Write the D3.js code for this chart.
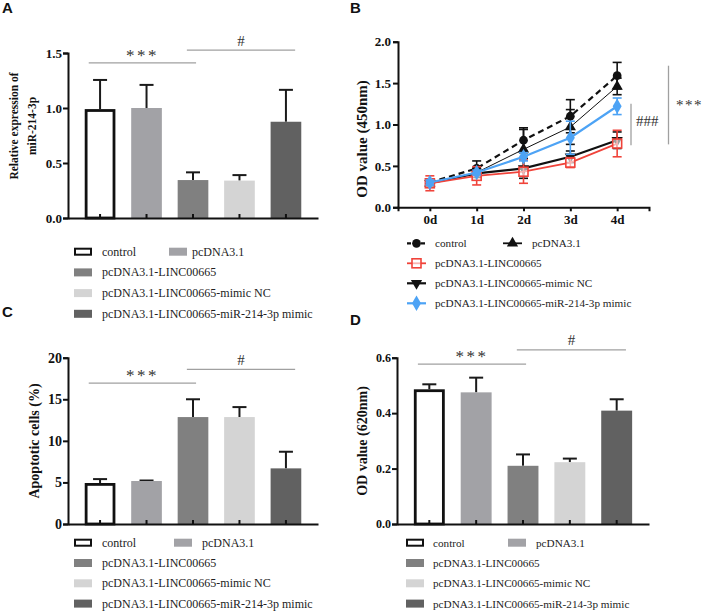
<!DOCTYPE html>
<html><head><meta charset="utf-8">
<script src="https://cdn.jsdelivr.net/npm/d3@7/dist/d3.min.js"></script>
<style>body{margin:0;background:#fff}</style>
</head><body>
<svg id="c" width="708" height="611" xmlns="http://www.w3.org/2000/svg"></svg>
<script>
// ---------- data ----------
const groups = ["control", "pcDNA3.1", "pcDNA3.1-LINC00665", "pcDNA3.1-LINC00665-mimic NC", "pcDNA3.1-LINC00665-miR-214-3p mimic"];
const groupColors = ["#ffffff", "#a2a2a6", "#808080", "#d4d4d4", "#616161"];

const exprMean = [0.99, 1.00, 0.345, 0.34, 0.875];
const exprErr  = [0.265, 0.21, 0.07, 0.05, 0.29];
const exprTicks = [0, 0.5, 1.0, 1.5];
const exprTickLabels = ["0.0", "0.5", "1.0", "1.5"];

const apopMean = [4.93, 5.17, 12.86, 12.86, 6.69];
const apopErr  = [0.47, 0.06, 2.14, 1.2, 2.0];
const apopTicks = [0, 5, 10, 15, 20];
const apopTickLabels = ["0", "5", "10", "15", "20"];

const od620Mean = [0.486, 0.475, 0.21, 0.223, 0.409];
const od620Err  = [0.018, 0.053, 0.041, 0.013, 0.041];
const od620Ticks = [0, 0.2, 0.4, 0.6];
const od620TickLabels = ["0.0", "0.2", "0.4", "0.6"];

const days = ["0d", "1d", "2d", "3d", "4d"];
const odSeriesNames = ["control", "pcDNA3.1", "pcDNA3.1-LINC00665", "pcDNA3.1-LINC00665-mimic NC", "pcDNA3.1-LINC00665-miR-214-3p mimic"];
const odControl    = [0.30, 0.47, 0.81, 1.10, 1.59];
const odControlErr = [0.03, 0.09, 0.15, 0.20, 0.16];
const odPc         = [0.29, 0.42, 0.70, 0.97, 1.46];
const odPcErr      = [0.03, 0.05, 0.24, 0.21, 0.10];
const odLinc       = [0.29, 0.38, 0.43, 0.54, 0.77];
const odLincErr    = [0.09, 0.11, 0.14, 0.06, 0.16];
const odNC         = [0.29, 0.41, 0.47, 0.61, 0.81];
const odNCErr      = [0.03, 0.05, 0.12, 0.07, 0.10];
const odMimic      = [0.30, 0.42, 0.61, 0.84, 1.22];
const odMimicErr   = [0.03, 0.03, 0.05, 0.20, 0.10];
const od450Ticks = [0, 0.5, 1.0, 1.5, 2.0];
const od450TickLabels = ["0.0", "0.5", "1.0", "1.5", "2.0"];

// ---------- drawing ----------
const svg = d3.select("#c");
const SERIF = "'Liberation Serif','Times New Roman',serif";
const SANS = "'Liberation Sans',Arial,sans-serif";

function panelLabel(t, x, y) {
  svg.append("text").attr("x", x).attr("y", y).text(t)
    .attr("font-family", SANS).attr("font-weight", "bold").attr("font-size", 15).attr("fill", "#111");
}

function yLabel(lines, x0, dx, yc, size) {
  lines.forEach((t, i) => {
    svg.append("text").attr("transform", `translate(${x0 + i * dx},${yc}) rotate(-90)`)
      .attr("text-anchor", "middle").attr("font-family", SERIF).attr("font-weight", "bold")
      .attr("font-size", size).attr("fill", "#111").text(t);
  });
}

function styleAxis(g, fs) {
  g.select(".domain").attr("stroke", "#111").attr("stroke-width", 2);
  g.selectAll(".tick line").attr("stroke", "#111").attr("stroke-width", 2);
  g.selectAll(".tick text").attr("font-family", SERIF).attr("font-weight", "bold")
    .attr("font-size", fs).attr("fill", "#111");
}

function sig(x1, x2, yy, txt, kind) {
  svg.append("line").attr("x1", x1).attr("x2", x2).attr("y1", yy).attr("y2", yy)
    .attr("stroke", "#a0a0a0").attr("stroke-width", 1.2);
  const t = svg.append("text").attr("x", (x1 + x2) / 2).attr("text-anchor", "middle")
    .attr("font-family", SERIF).attr("fill", "#333").text(txt);
  if (kind === "star") t.attr("y", yy - 2).attr("font-size", 17).attr("letter-spacing", 2.5);
  else t.attr("y", yy - 4.5).attr("font-size", 15);
}

function barPanel(cfg) {
  const x = d3.scaleBand().domain(groups).range(cfg.xr).paddingInner(0.34).paddingOuter(0.36);
  const y = d3.scaleLinear().domain(cfg.yd).range(cfg.yr);
  const bw = x.bandwidth();
  groups.forEach((k, i) => {
    const v = cfg.mean[i], e = cfg.err[i];
    const cx = x(k) + bw / 2;
    svg.append("line").attr("x1", cx).attr("x2", cx).attr("y1", y(v)).attr("y2", y(v + e))
      .attr("stroke", "#1a1a1a").attr("stroke-width", 2);
    svg.append("line").attr("x1", cx - 7).attr("x2", cx + 7).attr("y1", y(v + e)).attr("y2", y(v + e))
      .attr("stroke", "#1a1a1a").attr("stroke-width", 2);
    if (i === 0) {
      svg.append("rect").attr("x", x(k) + 1.4).attr("y", y(v) + 1.4).attr("width", bw - 2.8)
        .attr("height", y(0) - y(v) - 1.4).attr("fill", "#fff").attr("stroke", "#111").attr("stroke-width", 2.8);
    } else {
      svg.append("rect").attr("x", x(k)).attr("y", y(v)).attr("width", bw)
        .attr("height", y(0) - y(v)).attr("fill", groupColors[i]);
    }
  });
  const ya = svg.append("g").attr("transform", `translate(${cfg.xr[0]},0)`)
    .call(d3.axisLeft(y).tickValues(cfg.ticks).tickFormat((d, i) => cfg.tickLabels[i]).tickSizeOuter(0).tickSize(5).tickPadding(1));
  styleAxis(ya, cfg.tfs);
  const xa = svg.append("g").attr("transform", `translate(0,${y(0)})`)
    .call(d3.axisBottom(x).tickSizeInner(-4).tickSizeOuter(0).tickFormat(""));
  styleAxis(xa, cfg.tfs);
  sig(x(groups[0]) + 0.13 * bw, x(groups[2]) + 0.6 * bw, y(cfg.sigStar), "***", "star");
  sig(x(groups[2]) + 0.3 * bw, x(groups[4]) + 0.8 * bw, y(cfg.sigHash), "#", "hash");
  const L = cfg.leg;
  const rows = [[0, 1], [2], [3], [4]];
  rows.forEach((r, ri) => {
    r.forEach((gi, ci) => {
      const sx = ci === 0 ? L.sx1 : L.sx2;
      const tx = ci === 0 ? L.tx1 : L.tx2;
      const yc = L.y0 + ri * L.dy;
      if (gi === 0) {
        svg.append("rect").attr("x", sx + 1).attr("y", yc - 3).attr("width", 16).attr("height", 6)
          .attr("fill", "#fff").attr("stroke", "#111").attr("stroke-width", 2);
      } else {
        svg.append("rect").attr("x", sx).attr("y", yc - 4).attr("width", 18).attr("height", 8)
          .attr("fill", groupColors[gi]);
      }
      svg.append("text").attr("x", tx).attr("y", yc + 4).attr("font-family", SERIF)
        .attr("font-size", L.fs).attr("fill", "#222").text(groups[gi]);
    });
  });
}

// Panel A
panelLabel("A", 2, 13);
yLabel(["Relative expression of", "miR-214-3p"], 17.5, 18, 126, 11.5);
barPanel({xr: [68, 318], yd: [0, 1.5], yr: [218, 53], mean: exprMean, err: exprErr,
  ticks: exprTicks, tickLabels: exprTickLabels, tfs: 13, sigStar: 1.41, sigHash: 1.527,
  leg: {sx1: 74, tx1: 102, sx2: 169, tx2: 192, y0: 251.7, dy: 20.7, fs: 12}});

// Panel C
panelLabel("C", 2, 317);
yLabel(["Apoptotic cells (%)"], 39, 0, 441, 14);
barPanel({xr: [68, 318], yd: [0, 20], yr: [524, 357.7], mean: apopMean, err: apopErr,
  ticks: apopTicks, tickLabels: apopTickLabels, tfs: 14, sigStar: 16.95, sigHash: 18.6,
  leg: {sx1: 74, tx1: 102, sx2: 174, tx2: 202, y0: 542.7, dy: 20.3, fs: 12}});

// Panel D
panelLabel("D", 350, 325);
yLabel(["OD value (620nm)"], 367, 0, 441, 14);
barPanel({xr: [397, 649], yd: [0, 0.6], yr: [524, 357.7], mean: od620Mean, err: od620Err,
  ticks: od620Ticks, tickLabels: od620TickLabels, tfs: 12, sigStar: 0.577, sigHash: 0.628,
  leg: {sx1: 406, tx1: 433, sx2: 508, tx2: 536, y0: 542.7, dy: 20.3, fs: 11.2}});

// Panel B (line chart)
panelLabel("B", 350, 13);
yLabel(["OD value (450nm)"], 366.5, 0, 139, 15);
(function () {
  const x = d3.scalePoint().domain(days).range([398, 649]).padding(0.68);
  const y = d3.scaleLinear().domain([0, 2]).range([207.3, 41.7]);
  const series = [
    {name: odSeriesNames[0], v: odControl, e: odControlErr, color: "#111", w: 2.2, dash: "6,4", sym: d3.symbolCircle, size: 60, fill: "#111", rot: 0},
    {name: odSeriesNames[1], v: odPc, e: odPcErr, color: "#111", w: 1, dash: null, sym: d3.symbolTriangle, size: 55, fill: "#111", rot: 0},
    {name: odSeriesNames[3], v: odNC, e: odNCErr, color: "#111", w: 2.2, dash: null, sym: d3.symbolTriangle, size: 55, fill: "#111", rot: 180},
    {name: odSeriesNames[2], v: odLinc, e: odLincErr, color: "#f0433a", w: 1.8, dash: null, sym: "square", size: 0, fill: "#fff", rot: 0},
    {name: odSeriesNames[4], v: odMimic, e: odMimicErr, color: "#4da3f5", w: 2.2, dash: null, sym: d3.symbolDiamond, size: 70, fill: "#4da3f5", rot: 0}
  ];
  function marker(s, cx, cy) {
    if (s.sym === "square") {
      svg.append("rect").attr("x", cx - 4.5).attr("y", cy - 4.5).attr("width", 9).attr("height", 9)
        .attr("fill", "#fff").attr("fill-opacity", 0.6).attr("stroke", s.color).attr("stroke-width", 1.6);
    } else {
      svg.append("path").attr("d", d3.symbol().type(s.sym).size(s.size)())
        .attr("transform", `translate(${cx},${cy}) rotate(${s.rot})`).attr("fill", s.fill);
    }
  }
  series.forEach(s => {
    days.forEach((d, i) => {
      const cx = x(d);
      const t = y(s.v[i] + s.e[i]), b = y(s.v[i] - s.e[i]);
      svg.append("line").attr("x1", cx).attr("x2", cx).attr("y1", t).attr("y2", b).attr("stroke", s.color).attr("stroke-width", 1.6);
      [t, b].forEach(yy => svg.append("line").attr("x1", cx - 4.5).attr("x2", cx + 4.5).attr("y1", yy).attr("y2", yy)
        .attr("stroke", s.color).attr("stroke-width", 1.6));
    });
    const line = d3.line().x((d, i) => x(days[i])).y(d => y(d));
    svg.append("path").attr("d", line(s.v)).attr("fill", "none").attr("stroke", s.color)
      .attr("stroke-width", s.w).attr("stroke-dasharray", s.dash);
    days.forEach((d, i) => marker(s, x(d), y(s.v[i])));
  });
  const ya = svg.append("g").attr("transform", "translate(398,0)")
    .call(d3.axisLeft(y).tickValues(od450Ticks).tickFormat((d, i) => od450TickLabels[i]).tickSizeOuter(0).tickSize(5).tickPadding(2));
  styleAxis(ya, 13);
  const xa = svg.append("g").attr("transform", `translate(0,${y(0)})`)
    .call(d3.axisBottom(x).tickSizeOuter(0).tickSize(4).tickPadding(3));
  styleAxis(xa, 13);
  svg.append("line").attr("x1", 631).attr("x2", 631).attr("y1", y(1.25)).attr("y2", y(0.75)).attr("stroke", "#a0a0a0").attr("stroke-width", 1.3);
  svg.append("text").attr("x", 636).attr("y", y(0.98)).attr("font-family", SERIF).attr("font-size", 15).attr("fill", "#333").text("###");
  svg.append("line").attr("x1", 668.5).attr("x2", 668.5).attr("y1", y(1.71)).attr("y2", y(0.76)).attr("stroke", "#a0a0a0").attr("stroke-width", 1.3);
  svg.append("text").attr("x", 676).attr("y", y(1.18)).attr("font-family", SERIF).attr("font-size", 15).attr("letter-spacing", 1.5).attr("fill", "#333").text("***");
  const order = [[series[0], series[1]], [series[3]], [series[2]], [series[4]]];
  order.forEach((r, ri) => {
    const yc = 243.3 + ri * 20;
    r.forEach((s, ci) => {
      const sx = ci === 0 ? 407 : 503, tx = ci === 0 ? 435 : 532;
      svg.append("line").attr("x1", sx).attr("x2", sx + 19).attr("y1", yc).attr("y2", yc)
        .attr("stroke", s.color).attr("stroke-width", Math.max(s.w, 1.8)).attr("stroke-dasharray", s.dash ? "4,3" : null);
      marker(s, sx + 9.5, yc);
      svg.append("text").attr("x", tx).attr("y", yc + 4).attr("font-family", SERIF).attr("font-size", 11.2)
        .attr("fill", "#222").text(s.name);
    });
  });
})();
</script>
</body></html>
